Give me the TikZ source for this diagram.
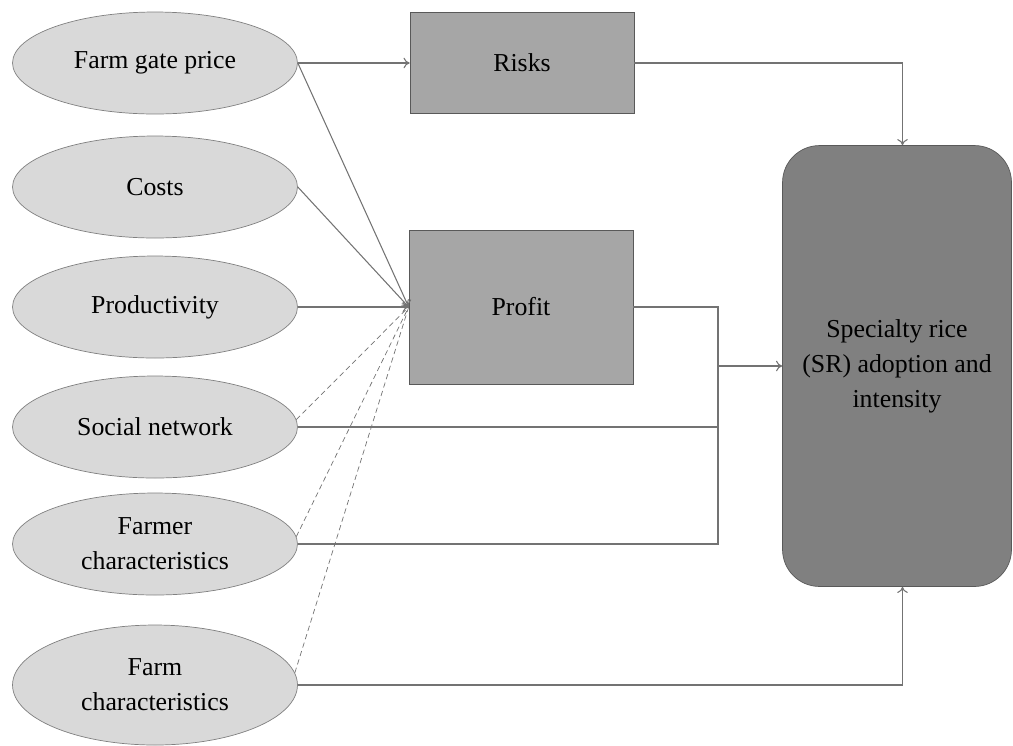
\documentclass[tikz,border=0pt]{standalone}
\usepackage{fontspec}
\setmainfont{Liberation Serif}
\usetikzlibrary{arrows.meta,shapes.geometric}
\definecolor{lightgrey}{RGB}{217,217,217}
\definecolor{midgrey}{RGB}{166,166,166}
\definecolor{darkgrey}{RGB}{128,128,128}
\definecolor{linegrey}{RGB}{115,115,115}

\begin{document}
\begin{tikzpicture}[x=0.02cm,y=-0.02cm,>={To[length=3.5pt,width=6pt]},
  every node/.style={font=\fontsize{14.7}{20}\selectfont,align=center},
  cause node/.style={ellipse,draw=gray,fill=lightgrey,inner sep=0pt,minimum width=5.7cm,minimum height=2.04cm},
  box node/.style={rectangle,draw=black!65,fill=midgrey,minimum width=4.48cm},
  target node/.style={rectangle,rounded corners=0.74cm,draw=black!65,fill=darkgrey,minimum width=4.58cm,minimum height=8.82cm},
  link/.style={draw=linegrey,line width=0.6pt},
  dashlink/.style={link,dash pattern=on 3pt off 2pt,line width=0.4pt}]
  \useasboundingbox (0,0) rectangle (1013,745);

  \node[cause node] (1) at (155,63) {Farm gate price};
  \node[cause node] (2) at (155,187) {Costs};
  \node[cause node] (3) at (155,307) {Productivity};
  \node[cause node] (4) at (155,427) {Social network};
  \node[cause node] (5) at (155,544) {Farmer\\characteristics};
  \node[cause node,minimum height=2.4cm] (6) at (155,685) {Farm\\characteristics};

  \node[box node,minimum height=2.02cm] (7) at (522,63) {Risks};
  \node[box node,minimum height=3.08cm] (8) at (521,307) {Profit};
  \node[target node] (9) at (897,366) {Specialty rice\\(SR) adoption and\\intensity};

  \coordinate (10) at (718,544);

  \path
    (1.east) edge[link,->] (7.west)
             edge[link,->] (8.west)
    (2.east) edge[link,->] (8.west)
    (3.east) edge[link,->] (8.west)
    (4.3) edge[dashlink] (8.west)
    (5.3) edge[dashlink] (8.west)
    (6.5) edge[dashlink] (8.west);

  \draw[link] (8.east) -| (10) -- (5.east);
  \draw[link] (4.east) -- (4.east -| 10);
  \draw[link,->] (10 |- 9.west) -- (9.west);
  \draw[link,->] (7.east) -| ([xshift=0.11cm]9.north);
  \draw[link,->] (6.east) -| ([xshift=0.11cm]9.south);

\end{tikzpicture}
\end{document}
